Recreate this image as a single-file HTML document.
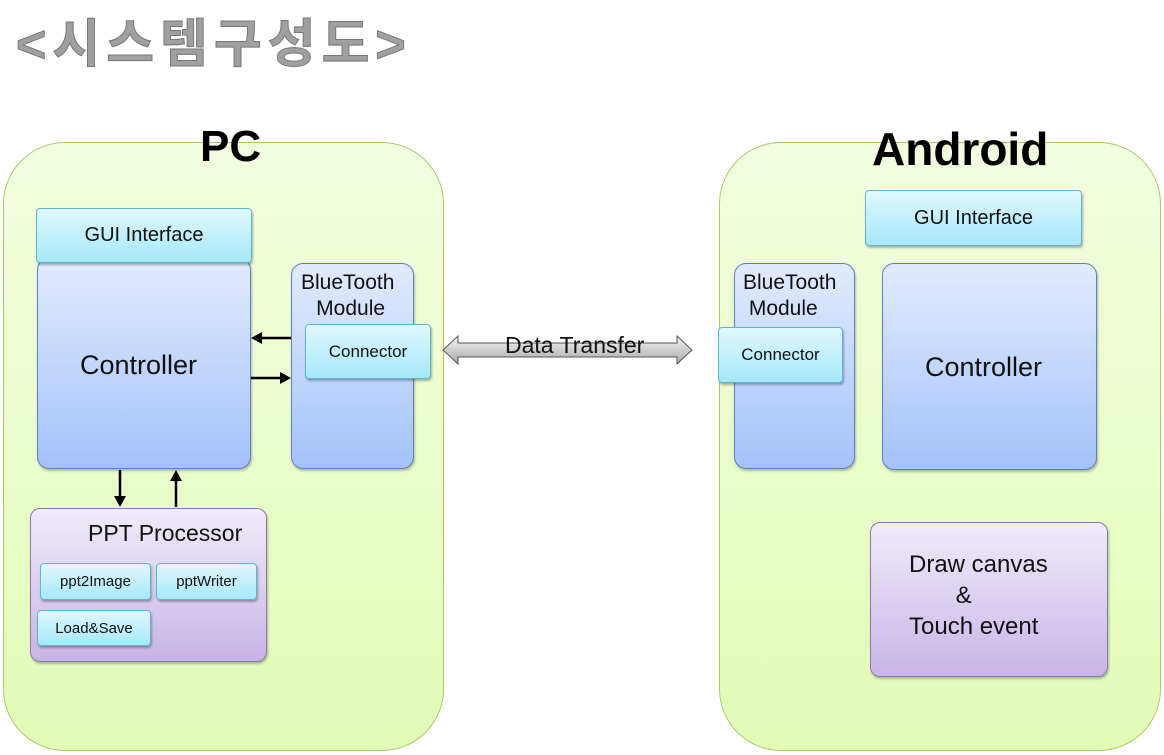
<!DOCTYPE html>
<html><head><meta charset="utf-8"><style>
body{margin:0;width:1164px;height:755px;background:#fff;position:relative;overflow:hidden;font-family:"Liberation Sans","Noto Sans CJK KR",sans-serif}
.a{position:absolute;box-sizing:border-box}
.cont{border:1.5px solid #a8cc6a;border-radius:62px;background:linear-gradient(#f3fde0,#e2fbb6)}
.cyan{border:1px solid #5fb6d0;border-radius:4px;background:linear-gradient(#e0f8fe,#a6e8fa);box-shadow:1px 2px 2px rgba(0,0,0,.3);display:flex;align-items:center;justify-content:center;color:#111}
.blue{border:1px solid #5b7fc4;border-radius:12px;background:linear-gradient(#e2ebfd,#a4c2fb);box-shadow:1px 2px 2px rgba(0,0,0,.25)}
.purp{border:1px solid #8a78b0;border-radius:10px;background:linear-gradient(#f0ecfa,#c7b5e6);box-shadow:1px 2px 2px rgba(0,0,0,.25)}
.t{position:absolute;white-space:nowrap;color:#111}
</style></head><body>
<div class="t" style="left:16px;top:2px;font-size:52px;font-weight:bold;color:#a0a0a0;letter-spacing:6px;-webkit-text-stroke:1px #777">&lt;시스템구성도&gt;</div>

<div class="a cont" style="left:3px;top:142px;width:441px;height:609px"></div>
<div class="a cont" style="left:719px;top:142px;width:442px;height:609px"></div>
<div class="t" style="left:200px;top:122px;font-size:44px;font-weight:bold;color:#000">PC</div>
<div class="t" style="left:872px;top:122px;font-size:46px;font-weight:bold;color:#000">Android</div>

<div class="a blue" style="left:37px;top:258px;width:214px;height:211px"></div>
<div class="t" style="left:80px;top:350px;font-size:27px">Controller</div>
<div class="a cyan" style="left:36px;top:208px;width:216px;height:55px;font-size:20px">GUI Interface</div>
<div class="a blue" style="left:291px;top:263px;width:123px;height:206px"></div>
<div class="t" style="left:301px;top:270px;font-size:21px;text-align:center;line-height:26px">BlueTooth<br>&nbsp;Module</div>
<div class="a cyan" style="left:305px;top:324px;width:126px;height:55px;font-size:17px">Connector</div>

<div class="a purp" style="left:30px;top:508px;width:237px;height:154px"></div>
<div class="t" style="left:88px;top:520px;font-size:23px">PPT Processor</div>
<div class="a cyan" style="left:40px;top:563px;width:111px;height:37px;font-size:15px">ppt2Image</div>
<div class="a cyan" style="left:156px;top:563px;width:101px;height:37px;font-size:15px">pptWriter</div>
<div class="a cyan" style="left:37px;top:610px;width:114px;height:36px;font-size:15px">Load&amp;Save</div>

<div class="a cyan" style="left:865px;top:190px;width:217px;height:56px;font-size:20px">GUI Interface</div>
<div class="a blue" style="left:734px;top:263px;width:121px;height:206px"></div>
<div class="t" style="left:743px;top:270px;font-size:21px;line-height:26px">BlueTooth<br>&nbsp;Module</div>
<div class="a cyan" style="left:718px;top:327px;width:125px;height:56px;font-size:17px">Connector</div>
<div class="a blue" style="left:882px;top:263px;width:215px;height:207px"></div>
<div class="t" style="left:925px;top:352px;font-size:27px">Controller</div>
<div class="a purp" style="left:870px;top:522px;width:238px;height:155px"></div>
<div class="t" style="left:909px;top:549px;font-size:24px;line-height:31px">Draw canvas<br>&nbsp;&nbsp;&nbsp;&nbsp;&nbsp;&nbsp;&nbsp;&amp;<br>Touch event</div>

<svg class="a" style="left:0;top:0" width="1164" height="755">
<defs><linearGradient id="g" x1="0" y1="0" x2="0" y2="1"><stop offset="0" stop-color="#f4f4f4"/><stop offset="1" stop-color="#a8a8a8"/></linearGradient></defs>
<polygon points="443,350 458,336 458,343 677,343 677,336 692,350 677,364 677,357 458,357 458,364" fill="url(#g)" stroke="#555" stroke-width="1"/>
<g stroke="#000" stroke-width="2.5" fill="#000">
<line x1="291" y1="338" x2="258" y2="338"/><polygon stroke="none" points="251,338 262,332 262,344"/>
<line x1="251" y1="378" x2="284" y2="378"/><polygon stroke="none" points="291,378 280,372 280,384"/>
<line x1="120" y1="470" x2="120" y2="500"/><polygon stroke="none" points="120,507 114,496 126,496"/>
<line x1="176" y1="507" x2="176" y2="477"/><polygon stroke="none" points="176,470 170,481 182,481"/>
</g>
</svg>
<div class="t" style="left:505px;top:332px;font-size:23px">Data Transfer</div>
</body></html>
